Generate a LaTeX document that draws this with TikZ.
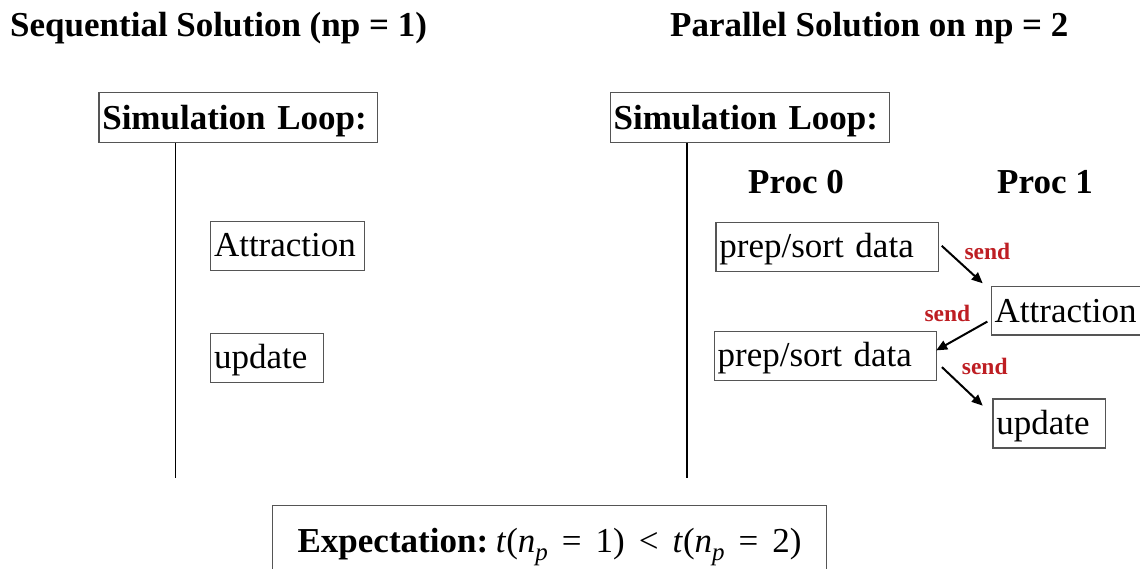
\documentclass[tikz,border=0pt]{standalone}
\usepackage{fontspec}
\setmainfont{Liberation Serif}
\usetikzlibrary{calc,arrows.meta}
\definecolor{boxgray}{RGB}{85,85,85}
\definecolor{sendred}{RGB}{190,30,35}
\newcommand{\subp}{\raisebox{-8pt}{\fontsize{25}{28}\selectfont\itshape p}}
\newcommand{\rsp}{\hspace{0.4em}}
\tikzset{
  bx/.style={draw=boxgray, line width=1.2pt, anchor=north west, inner xsep=3.4pt, inner ysep=0pt,
    text height=35.5pt, text depth=13.5pt, align=left, font=\fontsize{35}{40}\selectfont},
  slbox/.style={bx, text height=37.5pt, text depth=12.5pt, font=\fontsize{35}{40}\selectfont\bfseries},
  ttl/.style={anchor=base west, inner sep=0pt, font=\fontsize{35}{40}\selectfont\bfseries},
  sendlbl/.style={anchor=base west, inner sep=0pt, text=sendred, font=\fontsize{23.5}{26}\selectfont\bfseries},
  vline/.style={line width=1.5pt},
  msg/.style={line width=2pt, -{Triangle[length=11pt,width=9.5pt]}}
}
\begin{document}
\begin{tikzpicture}[x=1pt,y=-1pt]
\clip (0,0) rectangle (1140,568);
% titles
\node[ttl] (t1) at (10,36.7) {Sequential Solution (np = 1)};
\node[ttl] (t2) at (670,36.7) {Parallel Solution on np = 2};
% left: sequential
\node[slbox, text width=271.6pt] (sl1) at (98.3,91.7) {Simulation Loop:};
\coordinate (e1) at (175.7,478);
\draw[vline] (sl1.south -| e1) -- (e1);
\node[bx, text width=147.2pt] (la) at (210,220.7) {Attraction};
\node[bx, text width=106.2pt] (lu) at (210,332.7) {update};
% right: parallel
\node[slbox, text width=272.2pt] (sl2) at (609.6,91.7) {Simulation Loop:};
\coordinate (e2) at (687,478);
\draw[vline] (sl2.south -| e2) -- (e2);
\node[ttl] (p0) at (748,193) {Proc 0};
\node[ttl] (p1h) at (997,193) {Proc 1};
\node[bx, text width=215.3pt] (pr1) at (715.4,221.7) {prep/sort data};
\node[bx, text width=215.3pt] (pr2) at (713.6,330.7) {prep/sort data};
\node[bx, text width=160pt, text height=36.5pt, text depth=12.1pt] (att) at (990.7,285.7) {Attraction};
\node[bx, text width=105.9pt] (upd) at (992.3,398.3) {update};
% messages
\draw[msg] ($(pr1.east)+(3,-1)$) -- ($(att.north west)+(-8,-2.4)$);
\draw[msg] ($(att.west)+(-3.4,11)$) -- ($(pr2.east)+(-0.7,-5.4)$);
\draw[msg] ($(pr2.east)+(5,11.3)$) -- ($(upd.north west)+(-9.6,7.4)$);
\node[sendlbl] (s1) at (964.3,259) {send};
\node[sendlbl] (s2) at (924.3,321.7) {send};
\node[sendlbl] (s3) at (961.7,374) {send};
% expectation
\node[draw=boxgray, line width=1.2pt, anchor=north west, inner sep=0pt, text width=554pt, align=center,
  text height=46.7pt, text depth=40pt, font=\fontsize{35}{40}\selectfont] (exp) at (272,505)
  {\textbf{Expectation:}\hspace{0.22em}\textit{t}(\textit{n}\subp\rsp=\rsp1)\rsp<\rsp\textit{t}(\textit{n}\subp\rsp=\rsp2)};
\end{tikzpicture}
\end{document}
